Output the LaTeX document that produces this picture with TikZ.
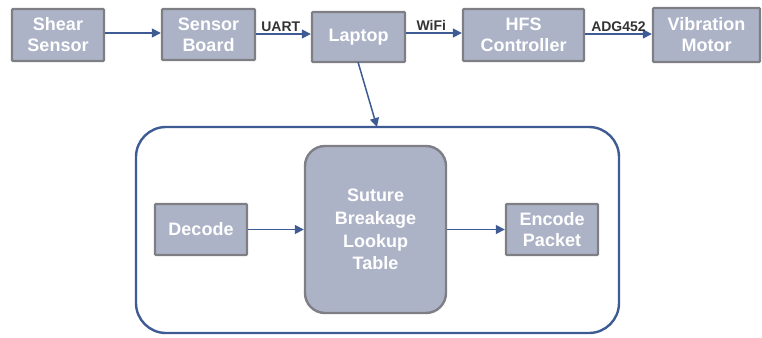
\documentclass[tikz,border=0pt]{standalone}
\usepackage{fontspec}
\setmainfont{Liberation Sans}
\usetikzlibrary{arrows.meta,positioning}
\definecolor{boxfill}{HTML}{ADB3C7}
\definecolor{boxedge}{HTML}{7E7F84}
\definecolor{flow}{HTML}{3E5B94}
\definecolor{labelink}{HTML}{333333}
\tikzset{
  blk/.style={draw=boxedge, line width=2.4pt, fill=boxfill, text=white,
    font=\fontsize{18}{21}\selectfont\bfseries, align=center,
    inner sep=0pt, rounded corners=1pt},
  flowarrow/.style={draw=flow, line width=1.5pt,
    -{Triangle[length=9pt,width=9pt]}},
  linklabel/.style={text=labelink, font=\fontsize{14}{16}\selectfont\bfseries,
    inner sep=0pt}
}
\begin{document}
\begin{tikzpicture}[x=1pt,y=-1pt]
\useasboundingbox (0,0) rectangle (762,337);
% top chain of hardware
\node[blk, minimum width=92pt, minimum height=52pt] (shear) at (58,35) {Shear\\Sensor};
\node[blk, minimum width=93pt, minimum height=51pt] (board) at (208.5,34.5) {Sensor\\Board};
\node[blk, minimum width=93pt, minimum height=50pt] (laptop) at (358.5,37) {Laptop};
\node[blk, minimum width=121pt, minimum height=52pt] (hfs) at (523.5,35) {HFS\\Controller};
\node[blk, minimum width=107pt, minimum height=54pt] (motor) at (706.5,35) {Vibration\\Motor};
% software container
\node[draw=flow, line width=2.4pt, rounded corners=30pt, minimum width=483pt,
  minimum height=206pt, inner sep=0pt] (sw) at (377.5,230) {};
\node[blk, minimum width=92pt, minimum height=51pt] (decode) at (201,229.5) {Decode};
\node[blk, rounded corners=20pt, minimum width=141pt, minimum height=167pt,
  font=\fontsize{18}{22.7}\selectfont\bfseries] (lut) at (375.5,229.5)
  {Suture\\Breakage\\Lookup\\Table};
\node[blk, minimum width=92pt, minimum height=51pt] (encode) at (552,229.5) {Encode\\Packet};
% connectors
\draw[flowarrow] (shear.east |- 0,33) -- (board.west |- 0,33);
\draw[flowarrow] (board.east |- 0,34) -- (laptop.west |- 0,34)
  node[linklabel, pos=0.45, above=2pt] {UART};
\draw[flowarrow] (laptop.east |- 0,33) -- (hfs.west |- 0,33)
  node[linklabel, pos=0.45, above=2pt] {WiFi};
\draw[flowarrow] (hfs.east |- 0,34) -- (motor.west |- 0,34)
  node[linklabel, midway, above=2pt] {ADG452};
\coordinate (lapout) at (358,62);
\coordinate (swin) at (377,127);
\draw[flowarrow] (lapout) -- (swin);
\draw[flowarrow] (decode.east) -- (lut.west |- decode.east);
\draw[flowarrow] (lut.east |- encode.west) -- (encode.west);
\end{tikzpicture}
\end{document}
